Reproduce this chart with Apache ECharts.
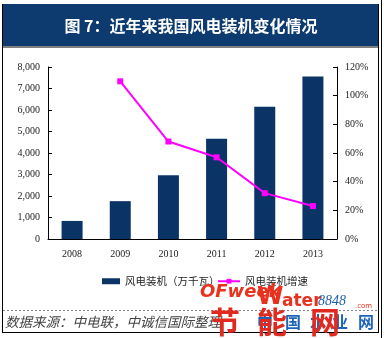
<!DOCTYPE html>
<html>
<head>
<meta charset="utf-8">
<script src="https://cdn.jsdelivr.net/npm/echarts@6/dist/echarts.min.js"></script>
<style>html,body{margin:0;padding:0;background:#fff;}#c{width:384px;height:338px;}</style>
</head>
<body>
<div id="c"></div>
<script>
var years = ['2008','2009','2010','2011','2012','2013'];
var capacity = [840, 1760, 2960, 4660, 6150, 7560];
var growth = [null, 1.10, 0.68, 0.57, 0.32, 0.23];
var leftTicks = ['0','1,000','2,000','3,000','4,000','5,000','6,000','7,000','8,000'];
var rightTicks = ['0%','20%','40%','60%','80%','100%','120%'];
var titleText = '图 7：近年来我国风电装机变化情况';
var sourceText = '数据来源：中电联，中诚信国际整理';
var seriesNames = ['风电装机（万千瓦）', '风电装机增速'];

var chart = echarts.init(document.getElementById('c'), null, {renderer:'canvas'});
var serif = 'Liberation Serif';
var cjk = 'Noto Sans CJK SC';
var axisLabel = {fontFamily: serif, fontSize: 10, color: '#222'};

chart.setOption({
  animation: false,
  backgroundColor: '#fff',
  grid: {left: 48, right: 47, top: 67, bottom: 99, containLabel: false},
  legend: [
    {data: [seriesNames[0]], left: 97, top: 271, itemWidth: 18, itemHeight: 6, itemGap: 0,
     textStyle: {fontFamily: cjk, fontSize: 10.5, color: '#222'}, icon: 'rect'},
    {data: [seriesNames[1]], left: 212, top: 271, itemWidth: 22, itemHeight: 6, itemGap: 0,
     textStyle: {fontFamily: cjk, fontSize: 10.5, color: '#222'}}
  ],
  xAxis: {
    type: 'category', data: years,
    axisLine: {lineStyle: {color: '#000', width: 1}},
    axisTick: {inside: true, length: 4, lineStyle: {color: '#000'}},
    axisLabel: Object.assign({margin: 10}, axisLabel)
  },
  yAxis: [
    {type: 'value', min: 0, max: 8000, interval: 1000,
     axisLine: {show: true, lineStyle: {color: '#000'}},
     axisTick: {show: true, inside: true, length: 4, lineStyle: {color: '#000'}},
     splitLine: {show: false},
     axisLabel: Object.assign({margin: 8, formatter: function(v){ return leftTicks[Math.round(v/1000)]; }}, axisLabel)},
    {type: 'value', min: 0, max: 1.2, interval: 0.2, position: 'right',
     axisLine: {show: true, lineStyle: {color: '#000'}},
     axisTick: {show: true, inside: true, length: 4, lineStyle: {color: '#000'}},
     splitLine: {show: false},
     axisLabel: Object.assign({margin: 8, formatter: function(v){ return rightTicks[Math.round(v/0.2)]; }}, axisLabel)}
  ],
  series: [
    {name: seriesNames[0], type: 'bar', data: capacity, barWidth: 21,
     itemStyle: {color: '#0b3466'}},
    {name: seriesNames[1], type: 'line', yAxisIndex: 1, data: growth,
     symbol: 'rect', symbolSize: 6, showSymbol: true,
     lineStyle: {color: '#ff00ff', width: 2}, itemStyle: {color: '#ff00ff'}}
  ],
  graphic: [
    {type: 'rect', shape: {x: 3, y: 4, width: 376, height: 42}, style: {fill: '#0d3a6f'}, z: 0},
    {type: 'text', x: 191, y: 26, style: {text: titleText, fill: '#fff', font: 'bold 16px "Noto Sans CJK SC"', textAlign: 'center', textVerticalAlign: 'middle'}},
    {type: 'line', shape: {x1: 2, y1: 47, x2: 378, y2: 47}, style: {stroke: '#000', lineWidth: 1}},
    {type: 'line', shape: {x1: 2.5, y1: 4, x2: 2.5, y2: 333}, style: {stroke: '#000', lineWidth: 1}},
    {type: 'line', shape: {x1: 378.5, y1: 4, x2: 378.5, y2: 333}, style: {stroke: '#000', lineWidth: 1}},
    {type: 'line', shape: {x1: 381.5, y1: 0, x2: 381.5, y2: 338}, style: {stroke: '#000', lineWidth: 1}},
    {type: 'line', shape: {x1: 2, y1: 332.5, x2: 379, y2: 332.5}, style: {stroke: '#000', lineWidth: 1}},
    {type: 'line', shape: {x1: 3, y1: 310.5, x2: 378, y2: 310.5}, style: {stroke: '#888', lineWidth: 1, lineDash: [2, 2]}},
    {type: 'text', x: 5, y: 322, style: {text: sourceText, fill: '#444', font: 'italic 13.5px "Noto Sans CJK SC"', textVerticalAlign: 'middle'}},
    {type: 'text', x: 200, y: 292, z: 50, style: {text: 'OFweek', fill: '#e8321e', font: 'italic bold 18px "DejaVu Sans"', textVerticalAlign: 'middle'}},
    {type: 'text', x: 257, y: 298, z: 50, style: {text: 'W', fill: '#e8321e', font: 'bold 24px "DejaVu Sans"', textVerticalAlign: 'middle'}},
    {type: 'text', x: 282, y: 302, z: 50, style: {text: 'ater', fill: '#e8321e', font: 'bold 17px "DejaVu Sans"', textVerticalAlign: 'middle'}},
    {type: 'text', x: 318, y: 301, z: 50, style: {text: '8848', fill: '#2060b0', font: 'italic 14px "Liberation Serif"', textVerticalAlign: 'middle'}},
    {type: 'text', x: 355, y: 306, z: 50, style: {text: '.com', fill: '#e8321e', font: '7px "DejaVu Sans"', textVerticalAlign: 'middle'}},
    {type: 'text', x: 265, y: 322, z: 49, style: {text: '中', fill: '#1e64b8', font: 'bold 16px "Noto Sans CJK SC"', textAlign: 'center', textVerticalAlign: 'middle'}},
    {type: 'text', x: 293, y: 322, z: 49, style: {text: '国', fill: '#1e64b8', font: 'bold 16px "Noto Sans CJK SC"', textAlign: 'center', textVerticalAlign: 'middle'}},
    {type: 'text', x: 318, y: 322, z: 49, style: {text: '水', fill: '#1e64b8', font: 'bold 16px "Noto Sans CJK SC"', textAlign: 'center', textVerticalAlign: 'middle'}},
    {type: 'text', x: 340, y: 322, z: 49, style: {text: '业', fill: '#1e64b8', font: 'bold 16px "Noto Sans CJK SC"', textAlign: 'center', textVerticalAlign: 'middle'}},
    {type: 'text', x: 366, y: 322, z: 49, style: {text: '网', fill: '#1e64b8', font: 'bold 16px "Noto Sans CJK SC"', textAlign: 'center', textVerticalAlign: 'middle'}},
    {type: 'text', x: 225, y: 322, z: 51, style: {text: '节', fill: '#e02a20', font: 'bold 30px "Noto Sans CJK SC"', textAlign: 'center', textVerticalAlign: 'middle'}},
    {type: 'text', x: 272, y: 322, z: 51, style: {text: '能', fill: '#e02a20', font: 'bold 30px "Noto Sans CJK SC"', textAlign: 'center', textVerticalAlign: 'middle'}},
    {type: 'text', x: 325, y: 322, z: 51, style: {text: '网', fill: '#e02a20', font: 'bold 30px "Noto Sans CJK SC"', textAlign: 'center', textVerticalAlign: 'middle'}}
  ]
});
</script>
</body>
</html>
